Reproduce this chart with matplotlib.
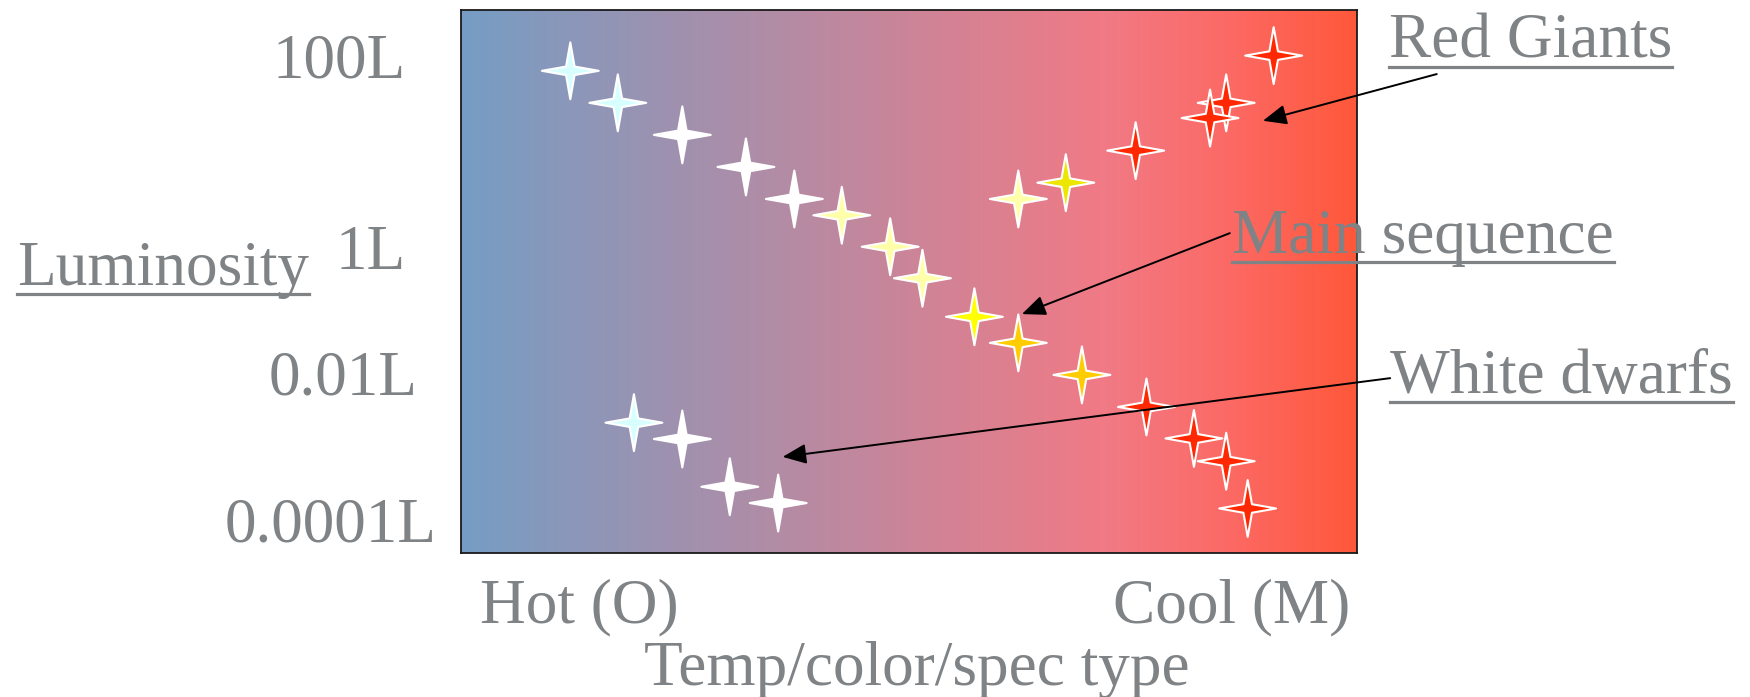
import numpy as np
import matplotlib
matplotlib.use("Agg")
import matplotlib.pyplot as plt
from matplotlib.path import Path
from matplotlib.lines import Line2D

# --- data (temperature index 0-100 hot->cool, luminosity index 0-100) ---
ms_temp = [12.2, 17.5, 24.7, 31.8, 37.2, 42.5, 47.9, 51.5, 57.3, 62.2, 69.3, 76.5, 81.8, 85.4, 87.8]
ms_lum = [88.8, 82.9, 77.0, 71.1, 65.2, 62.2, 56.4, 50.6, 43.5, 38.7, 32.8, 26.9, 21.1, 16.9, 8.2]
ms_color = ["cyan", "cyan", "white", "white", "white", "pale", "pale", "pale",
            "yellow", "gold", "gold", "red", "red", "red", "red"]

giant_temp = [62.2, 67.5, 75.3, 85.4, 83.6, 90.7]
giant_lum = [65.2, 68.2, 74.1, 82.9, 80.1, 91.6]
giant_color = ["pale", "olive", "red", "red", "red", "red"]

dwarf_temp = [19.3, 24.7, 30.0, 35.4]
dwarf_lum = [24.0, 21.0, 12.2, 9.2]
dwarf_color = ["cyan", "white", "white", "white"]

lum_ticks = [91.7, 56.3, 33.2, 6.1]
lum_labels = ["100L", "1L", "0.01L", "0.0001L"]
temp_labels = ["Hot (O)", "Cool (M)"]

# label -> (arrow tip in data units, arrow start in data units)
groups = ["Red Giants", "Main sequence", "White dwarfs"]
arrow_tip = [(89.5, 79.6), (62.6, 44.0), (35.9, 17.7)]
arrow_start = [(108.9, 88.2), (85.8, 58.9), (103.7, 32.2)]

# --- style ---
W, H = 1750, 697
GRAY = "#7f8386"
FONT = dict(family="Liberation Serif", fontsize=45.5, color=GRAY)
star_fill = {"cyan": "#d8ffff", "white": "#ffffff", "pale": "#ffffaa",
             "yellow": "#ffff00", "olive": "#ece600", "gold": "#ffcc00",
             "red": "#ff2800"}

a = 0.15
star = Path([(0, 1), (a, a), (1, 0), (a, -a), (0, -1), (-a, -a), (-1, 0), (-a, a), (0, 1)],
            [Path.MOVETO] + [Path.LINETO] * 7 + [Path.CLOSEPOLY])

fig = plt.figure(figsize=(W / 100, H / 100), dpi=100)
ax = fig.add_axes([461 / W, 1 - 553 / H, 896 / W, 543 / H])
ax.set_xlim(0, 100)
ax.set_ylim(0, 100)

# background gradient blue -> pink -> orange red
stops = [0, 0.72, 0.86, 1.0]
rgb = np.array([[118, 157, 196], [241, 122, 133], [252, 105, 100], [255, 88, 58]]) / 255
xs = np.linspace(0, 1, 600)
grad = np.stack([np.interp(xs, stops, rgb[:, k]) for k in range(3)], axis=-1)[None, :, :]
ax.imshow(grad, extent=[0, 100, 0, 100], aspect="auto", zorder=0, interpolation="bilinear")

for tx, ly, cs in [(ms_temp, ms_lum, ms_color), (giant_temp, giant_lum, giant_color),
                   (dwarf_temp, dwarf_lum, dwarf_color)]:
    ax.scatter(tx, ly, s=41 ** 2, marker=star, c=[star_fill[c] for c in cs],
               edgecolors="white", linewidths=1.5, joinstyle="round", zorder=3)

for tip, start in zip(arrow_tip, arrow_start):
    ax.annotate("", xy=tip, xytext=start, annotation_clip=False,
                arrowprops=dict(arrowstyle="-|>,head_length=0.4,head_width=0.17",
                                mutation_scale=36, color="black", lw=1.4,
                                shrinkA=0, shrinkB=0), zorder=4)

for sp in ax.spines.values():
    sp.set_color("#1a1a1a")
    sp.set_linewidth(1.3)
ax.set_xticks([])
ax.set_yticks([])

# luminosity tick labels (right edges differ slightly in the original)
right_edges = [406, 406, 418, 437]
for val, lab, r in zip(lum_ticks, lum_labels, right_edges):
    ax.text((r - 461) / 896, val, lab, transform=ax.get_yaxis_transform(),
            ha="right", va="center_baseline", **FONT)

# temperature end labels
ax.text(2.1, -69 / 543, temp_labels[0], transform=ax.get_xaxis_transform(),
        ha="left", va="baseline", **FONT)
ax.text(99.2, -69 / 543, temp_labels[1], transform=ax.get_xaxis_transform(),
        ha="right", va="baseline", **FONT)


def ftext(x, y, s, **kw):
    return fig.text(x / W, 1 - y / H, s, va="baseline", **FONT, **kw)


fig.text(916.5 / W, 1 - 685 / H, "Temp/color/spec type", ha="center", va="baseline", **FONT)
under = [(ftext(17, 285, "Luminosity"), 285)]
label_pos = [(1389, 58), (1232, 253), (1390, 393)]
for name, (lx, ly) in zip(groups, label_pos):
    under.append((ftext(lx, ly, name), ly))

fig.canvas.draw()
r = fig.canvas.get_renderer()
for t, base in under:
    bb = t.get_window_extent(r)
    yy = (H - base - 9) / H
    fig.add_artist(Line2D([bb.x0 / W, bb.x1 / W], [yy, yy], transform=fig.transFigure,
                          color=GRAY, lw=2.3))

fig.savefig("out.png", dpi=100)
